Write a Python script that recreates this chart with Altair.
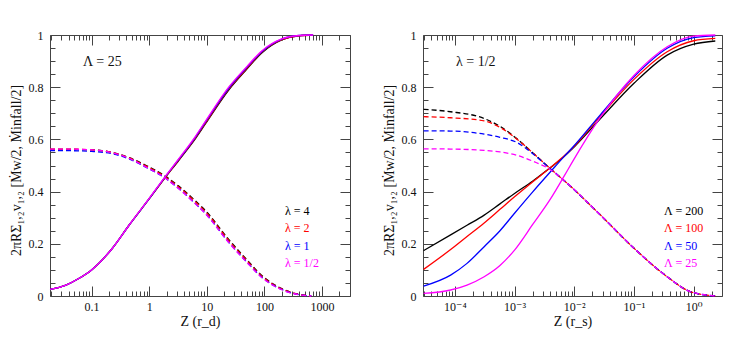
import altair as alt
import pandas as pd

FONT = "Liberation Serif, DejaVu Serif, serif"
COLORS = ["#000000", "#ff0000", "#0000ff", "#ff00ff"]
FRAME = "#444444"
Y_TITLE = "2πRΣ₁,₂v₁,₂ [Ṁw/2, Ṁinfall/2]"

# ---------------- left panel : Lambda = 25 ----------------
L_ANNOT = "Λ = 25"
L_NAMES = ["λ = 4", "λ = 2", "λ = 1", "λ = 1/2"]
L_XTITLE = "Z (r_d)"
L_X_SOLID = [0.019, 0.036, 0.061, 0.1, 0.23, 0.45, 1.0, 1.8, 3.3, 6.4, 9.5, 24, 50, 91, 200, 400, 700]
L_SOLID_BLACK = [0.025, 0.042, 0.068, 0.100, 0.183, 0.272, 0.372, 0.447, 0.521, 0.604, 0.660, 0.789, 0.870, 0.932, 0.981, 0.997, 1.0]
L_SOLID_RED = [0.025, 0.042, 0.068, 0.100, 0.183, 0.272, 0.373, 0.448, 0.523, 0.607, 0.663, 0.793, 0.873, 0.935, 0.982, 0.997, 1.0]
L_SOLID_BLUE = [0.025, 0.042, 0.068, 0.100, 0.183, 0.272, 0.373, 0.450, 0.525, 0.610, 0.667, 0.796, 0.877, 0.937, 0.984, 0.998, 1.0]
L_SOLID_MAGENTA = [0.025, 0.042, 0.068, 0.100, 0.183, 0.272, 0.374, 0.451, 0.527, 0.613, 0.670, 0.800, 0.880, 0.940, 0.985, 0.998, 1.0]

L_X_DASH = [0.019, 0.036, 0.061, 0.1, 0.23, 0.45, 0.87, 1.8, 3.3, 6.4, 9.5, 24, 50, 91, 200, 400, 650]
L_DASH_BLACK = [0.562, 0.562, 0.561, 0.560, 0.550, 0.530, 0.501, 0.463, 0.420, 0.364, 0.327, 0.217, 0.138, 0.078, 0.028, 0.006, 0.0]
L_DASH_RED = [0.563, 0.563, 0.562, 0.560, 0.550, 0.529, 0.499, 0.460, 0.417, 0.360, 0.323, 0.213, 0.135, 0.075, 0.027, 0.006, 0.0]
L_DASH_BLUE = [0.557, 0.557, 0.556, 0.554, 0.545, 0.525, 0.494, 0.455, 0.411, 0.353, 0.316, 0.206, 0.129, 0.071, 0.025, 0.005, 0.0]
L_DASH_MAGENTA = [0.563, 0.563, 0.562, 0.560, 0.549, 0.527, 0.495, 0.455, 0.410, 0.352, 0.315, 0.205, 0.128, 0.070, 0.024, 0.005, 0.0]

L_DOMAIN = [0.019, 3060]
L_MAJOR = [0.1, 1, 10, 100, 1000]
L_MAJOR_LABELS = ["0.1", "1", "10", "100", "1000"]

# ---------------- right panel : lambda = 1/2 ----------------
R_ANNOT = "λ = 1/2"
R_NAMES = ["Λ = 200", "Λ = 100", "Λ = 50", "Λ = 25"]
R_XTITLE = "Z (r_s)"
R_X_SOLID = [3e-5, 8.5e-5, 1.6e-4, 3.1e-4, 5.7e-4, 1e-3, 2e-3, 4e-3, 6.8e-3, 9.1e-3, 2.75e-2, 0.1, 0.36, 1.0, 2.3]
R_SOLID_BLACK = [0.174, 0.234, 0.271, 0.310, 0.353, 0.393, 0.440, 0.492, 0.535, 0.562, 0.680, 0.815, 0.923, 0.965, 0.977]
R_SOLID_RED = [0.102, 0.178, 0.228, 0.280, 0.332, 0.380, 0.437, 0.492, 0.537, 0.564, 0.690, 0.830, 0.936, 0.978, 0.987]
R_SOLID_BLUE = [0.038, 0.080, 0.125, 0.189, 0.250, 0.317, 0.398, 0.476, 0.535, 0.566, 0.695, 0.840, 0.949, 0.990, 0.997]
R_SOLID_MAGENTA = [0.010, 0.023, 0.042, 0.074, 0.117, 0.176, 0.273, 0.372, 0.460, 0.510, 0.685, 0.845, 0.955, 0.996, 1.000]

R_X_DASH = [3e-5, 8.5e-5, 3.1e-4, 5.7e-4, 1.1e-3, 2.1e-3, 4e-3, 7.6e-3, 2.75e-2, 0.1, 0.36, 0.87, 2.3]
R_DASH_BLACK = [0.715, 0.706, 0.680, 0.650, 0.602, 0.545, 0.487, 0.432, 0.310, 0.183, 0.074, 0.017, 0.0]
R_DASH_RED = [0.687, 0.683, 0.671, 0.646, 0.601, 0.545, 0.487, 0.432, 0.310, 0.183, 0.074, 0.017, 0.0]
R_DASH_BLUE = [0.633, 0.632, 0.620, 0.608, 0.588, 0.542, 0.487, 0.432, 0.310, 0.183, 0.074, 0.017, 0.0]
R_DASH_MAGENTA = [0.564, 0.563, 0.558, 0.552, 0.539, 0.515, 0.484, 0.432, 0.310, 0.183, 0.074, 0.017, 0.0]

R_DOMAIN = [2.93e-5, 2.98]
R_MAJOR = [1e-4, 1e-3, 1e-2, 1e-1, 1]
R_MAJOR_LABELS = ["10⁻⁴", "10⁻³", "10⁻²", "10⁻¹", "10⁰"]

Y_MAJOR = [0, 0.2, 0.4, 0.6, 0.8, 1.0]
Y_MINOR = [0.05, 0.1, 0.15, 0.25, 0.3, 0.35, 0.45, 0.5, 0.55, 0.65, 0.7, 0.75, 0.85, 0.9, 0.95]


def minor_ticks(domain):
    vals = []
    for e in range(-6, 5):
        for k in range(2, 10):
            v = k * 10.0 ** e
            if domain[0] <= v <= domain[1]:
                vals.append(v)
    return vals


def label_expr(values, labels):
    expr = "''"
    for v, lab in zip(reversed(values), reversed(labels)):
        expr = f"abs(datum.value - {v}) < {v} * 1e-6 ? '{lab}' : ({expr})"
    return expr


def panel(x_solid, solids, x_dash, dashes, domain, major, major_labels,
          xtitle, annot, names, width, legend_x):
    xs = alt.Scale(type="log", domain=domain, nice=False)
    ys = alt.Scale(domain=[0, 1], nice=False, zero=False)
    layers = []
    frames = []
    for i in range(4):
        df_s = pd.DataFrame({"x": x_solid, "y": solids[i]})
        df_d = pd.DataFrame({"x": x_dash, "y": dashes[i]})
        frames += [df_s, df_d]
        for df, dash in ((df_d, [5, 3]), (df_s, None)):
            kw = dict(color=COLORS[i], strokeWidth=1.3, interpolate="monotone")
            if dash:
                kw["strokeDash"] = dash
            layers.append(
                alt.Chart(df).mark_line(**kw).encode(
                    x=alt.X("x:Q", scale=xs, axis=None),
                    y=alt.Y("y:Q", scale=ys, axis=None),
                )
            )
    df_all = pd.concat(frames, ignore_index=True)
    base = alt.Chart(df_all).mark_point(opacity=0, size=1)
    minor = minor_ticks(domain)
    # major ticks, labels, titles (bottom / left)
    layers.append(base.encode(
        x=alt.X("x:Q", scale=xs, axis=alt.Axis(
            orient="bottom", values=major, tickSize=10, offset=-10,
            labelExpr=label_expr(major, major_labels), labelPadding=5,
            labelFlush=False, labelOverlap=False, title=xtitle, titlePadding=2)),
        y=alt.Y("y:Q", scale=ys, axis=alt.Axis(
            orient="left", values=Y_MAJOR, tickSize=10, offset=-10, format="~g",
            labelPadding=7, labelOverlap=False, labelFlush=False,
            title=Y_TITLE, titlePadding=5, titleY=135, titleFontSize=14)),
    ))
    # minor ticks bottom / left
    layers.append(base.encode(
        x=alt.X("x:Q", scale=xs, axis=alt.Axis(
            orient="bottom", values=minor, tickSize=5, offset=-5, labels=False, title=None)),
        y=alt.Y("y:Q", scale=ys, axis=alt.Axis(
            orient="left", values=Y_MINOR, tickSize=5, offset=-5, labels=False, title=None)),
    ))
    # major ticks top / right
    layers.append(base.encode(
        x=alt.X("x:Q", scale=xs, axis=alt.Axis(
            orient="top", values=major, tickSize=10, offset=-10, labels=False, title=None)),
        y=alt.Y("y:Q", scale=ys, axis=alt.Axis(
            orient="right", values=Y_MAJOR, tickSize=10, offset=-10, labels=False, title=None)),
    ))
    # minor ticks top / right
    layers.append(base.encode(
        x=alt.X("x:Q", scale=xs, axis=alt.Axis(
            orient="top", values=minor, tickSize=5, offset=-5, labels=False, title=None)),
        y=alt.Y("y:Q", scale=ys, axis=alt.Axis(
            orient="right", values=Y_MINOR, tickSize=5, offset=-5, labels=False, title=None)),
    ))
    # annotation
    layers.append(
        alt.Chart(pd.DataFrame({"t": [annot]})).mark_text(
            font=FONT, fontSize=14, align="left", baseline="middle", color="#111"
        ).encode(text="t:N", x=alt.value(33), y=alt.value(27))
    )
    # colored legend labels
    for i, name in enumerate(names):
        layers.append(
            alt.Chart(pd.DataFrame({"t": [name]})).mark_text(
                font=FONT, fontSize=12, align="left", baseline="middle", color=COLORS[i]
            ).encode(text="t:N", x=alt.value(legend_x), y=alt.value(176 + 17.3 * i))
        )
    return alt.layer(*layers).resolve_axis(x="independent", y="independent").properties(
        width=width, height=261
    )


left = panel(
    L_X_SOLID, [L_SOLID_BLACK, L_SOLID_RED, L_SOLID_BLUE, L_SOLID_MAGENTA],
    L_X_DASH, [L_DASH_BLACK, L_DASH_RED, L_DASH_BLUE, L_DASH_MAGENTA],
    L_DOMAIN, L_MAJOR, L_MAJOR_LABELS, L_XTITLE, L_ANNOT, L_NAMES, 300, 235,
)
right = panel(
    R_X_SOLID, [R_SOLID_BLACK, R_SOLID_RED, R_SOLID_BLUE, R_SOLID_MAGENTA],
    R_X_DASH, [R_DASH_BLACK, R_DASH_RED, R_DASH_BLUE, R_DASH_MAGENTA],
    R_DOMAIN, R_MAJOR, R_MAJOR_LABELS, R_XTITLE, R_ANNOT, R_NAMES, 299, 241,
)

chart = alt.hconcat(left, right, spacing=30).properties(
    padding={"left": 0, "top": 20, "right": 5, "bottom": 5}
).configure_view(
    stroke=FRAME, strokeWidth=1
).configure_axis(
    grid=False, domain=False, tickColor=FRAME, tickWidth=1,
    labelFont=FONT, titleFont=FONT, labelFontSize=12, titleFontSize=14,
    labelColor="#111", titleColor="#111", titleFontWeight="normal",
)

chart.save("out.html", embed_options={"renderer": "svg", "actions": False})
